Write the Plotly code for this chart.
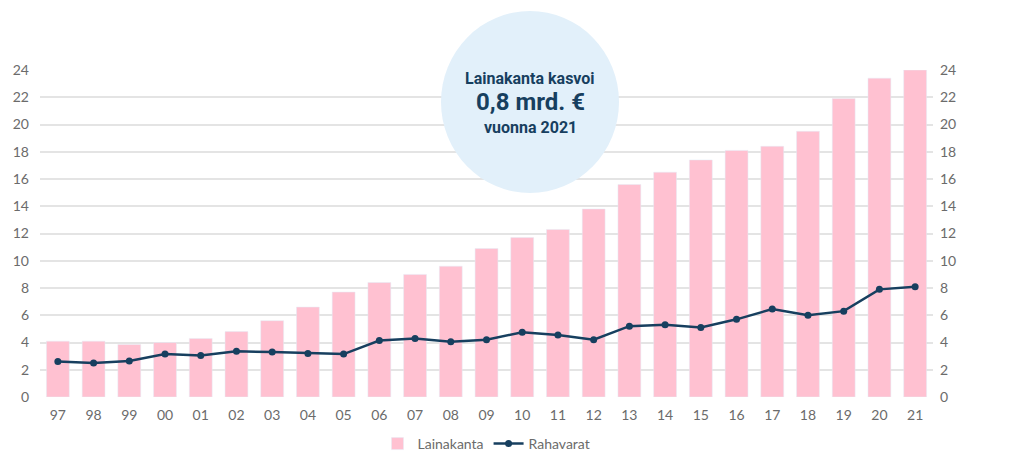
import plotly.graph_objects as go

years = ["97", "98", "99", "00", "01", "02", "03", "04", "05", "06", "07", "08", "09",
         "10", "11", "12", "13", "14", "15", "16", "17", "18", "19", "20", "21"]
lainakanta = [4.1, 4.1, 3.85, 4.0, 4.3, 4.8, 5.6, 6.6, 7.7, 8.4, 9.0, 9.6, 10.9,
              11.7, 12.3, 13.8, 15.6, 16.5, 17.4, 18.1, 18.4, 19.5, 21.9, 23.4, 24.0]
rahavarat = [2.6, 2.5, 2.65, 3.15, 3.05, 3.35, 3.3, 3.2, 3.15, 4.15, 4.3, 4.05, 4.2,
             4.75, 4.55, 4.2, 5.2, 5.3, 5.1, 5.7, 6.45, 6.0, 6.3, 7.9, 8.1]
yticks = list(range(0, 25, 2))

pink = "#ffc1d1"
navy = "#173f5f"
grey = "#6b6b6b"

fig = go.Figure()
fig.add_bar(x=years, y=lainakanta, name="Lainakanta", marker_color=pink)
fig.add_scatter(x=years, y=rahavarat, name="Rahavarat", mode="lines+markers",
                line=dict(color=navy, width=2.5), marker=dict(color=navy, size=7))
# invisible trace just to get the right-hand axis
fig.add_scatter(x=years, y=lainakanta, yaxis="y2", showlegend=False,
                mode="markers", marker=dict(opacity=0), hoverinfo="skip")

# bubble, position as fraction of the plot area
cx, cy = (530 - 40) / 893, (397 - 102) / 327
fig.add_shape(type="circle", xref="paper", yref="paper", xsizemode="pixel", ysizemode="pixel",
              xanchor=cx, yanchor=cy, x0=-89, x1=89, y0=-91, y1=91,
              fillcolor="#e2f0fa", line_width=0, layer="above")
lines = [("Lainakanta kasvoi", 16, 24), ("0,8 mrd. €", 24, 0), ("vuonna 2021", 16, -25)]
for txt, size, dy in lines:
    fig.add_annotation(xref="paper", yref="paper", x=cx, y=cy, yshift=dy, text=txt,
                       xanchor="center", yanchor="middle", showarrow=False,
                       font=dict(family="Roboto", size=size, color=navy, weight="bold"))

axis_font = dict(family="Lato", size=14, color=grey)
# page body has an 8px margin, so the figure is 8px smaller than the window
fig.update_layout(
    width=1001, height=444,
    margin=dict(l=32, r=76, t=62, b=55, autoexpand=False),
    plot_bgcolor="white", paper_bgcolor="white",
    bargap=0.36,
    showlegend=True,
    legend=dict(orientation="h", x=0.5, xanchor="center", yref="container", y=0.018,
                yanchor="middle", itemwidth=30, font=dict(family="Lato", size=14, color=grey)),
    xaxis=dict(range=[-0.5, 24.5], tickfont=axis_font, showgrid=False, ticks="",
               showline=False, automargin=False, ticklabelstandoff=8),
    yaxis=dict(range=[0, 24], tickvals=yticks, tickfont=axis_font, gridcolor="#e4e4e4",
               gridwidth=1.5, zeroline=False, ticklabelstandoff=10, automargin=False),
    yaxis2=dict(range=[0, 24], tickvals=yticks, tickfont=axis_font, overlaying="y",
                side="right", showgrid=False, zeroline=False, ticklabelstandoff=6, automargin=False),
)

fig.write_html("out.html")
